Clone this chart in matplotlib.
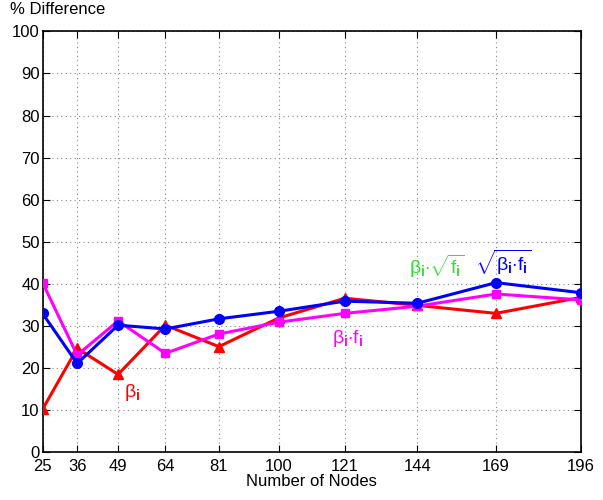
import matplotlib
matplotlib.use("Agg")
import matplotlib.pyplot as plt

plt.rcParams['font.family'] = ['Liberation Sans', 'DejaVu Sans']
plt.rcParams['mathtext.fontset'] = 'custom'
plt.rcParams['mathtext.rm'] = 'Liberation Sans'
plt.rcParams['mathtext.it'] = 'Liberation Sans'
plt.rcParams['mathtext.bf'] = 'Liberation Sans:bold'

nodes = [25, 36, 49, 64, 81, 100, 121, 144, 169, 196]
beta = [10.2, 24.7, 18.5, 30.2, 25.1, 31.9, 36.6, 34.9, 33.0, 36.8]
beta_f = [40.3, 23.1, 31.2, 23.5, 28.1, 30.9, 33.0, 34.7, 37.6, 36.2]
sqrt_beta_f = [33.0, 21.1, 30.2, 29.3, 31.7, 33.5, 35.9, 35.4, 40.3, 37.9]
yticks = list(range(0, 101, 10))

fig = plt.figure(figsize=(6.03, 5.0), dpi=100)
ax = fig.add_axes([0.0705, 0.0954, 0.893, 0.842])

ax.plot(nodes, beta, color='#ff0000', marker='^', markersize=7, linewidth=2.2, zorder=3)
ax.plot(nodes, beta_f, color='#ff00ff', marker='s', markersize=6, linewidth=2.2, zorder=4)
ax.plot(nodes, sqrt_beta_f, color='#0000ff', marker='o', markersize=7, linewidth=2.2, zorder=5)

ax.set_xlim(25, 196)
ax.set_ylim(0, 100)
ax.set_xticks(nodes)
ax.set_xticklabels([str(n) for n in nodes])
ax.set_yticks(yticks)
ax.tick_params(direction='in', top=True, right=True, labelsize=12, length=5)
ax.tick_params(axis='x', pad=5)
ax.tick_params(axis='y', pad=2)
ax.grid(True, linestyle=(0, (1, 3)), color='#888888', linewidth=0.8)
for s in ax.spines.values():
    s.set_linewidth(1.2)

ax.set_xlabel('Number of Nodes', fontsize=12, labelpad=0)
fig.text(0.017, 0.995, '% Difference', fontsize=12, ha='left', va='top')

ax.text(51.0, 14.3, r'$\beta_\mathbf{i}$', color='#ff0000', fontsize=14, va='center', ha='left')
ax.text(116.8, 27.1, r'$\beta_\mathbf{i}{\cdot}f_\mathbf{i}$', color='#ff00ff', fontsize=14, va='center', ha='left')
ax.text(141.5, 44.2, r'$\beta_\mathbf{i}{\cdot}\sqrt{f_\mathbf{i}}$', color='#33dd33', fontsize=14, va='center', ha='left')
ax.text(162.5, 45.0, r'$\sqrt{\beta_\mathbf{i}{\cdot}f_\mathbf{i}}$', color='#0000ff', fontsize=14, va='center', ha='left')

fig.savefig('out.png', dpi=100)
